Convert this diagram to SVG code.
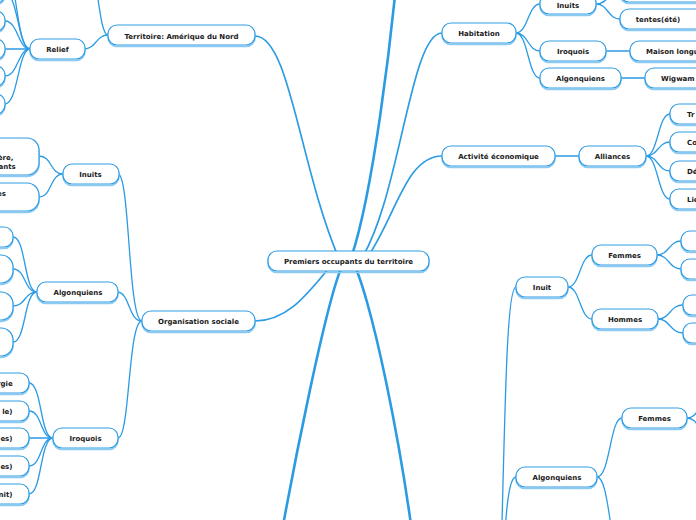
<svg xmlns="http://www.w3.org/2000/svg" width="696" height="520" viewBox="0 0 696 520">
<style>
.c{fill:none;stroke:#2b9be3;stroke-width:1.3;stroke-linecap:round}
.cm{fill:none;stroke:#2b9be3;stroke-width:1.7;stroke-linecap:round}
.ct{fill:none;stroke:#2b9be3;stroke-width:2.6;stroke-linecap:round}
.sh{fill:none;stroke:#8ccaf2;stroke-width:1.6}
.bx{fill:#fff;stroke:#2e9be3;stroke-width:1.2}
.t{font-family:"DejaVu Sans",Verdana,sans-serif;font-weight:bold;font-size:7px;fill:#1a1a1a;text-anchor:middle}
.te{font-family:"DejaVu Sans",Verdana,sans-serif;font-weight:bold;font-size:7px;fill:#1a1a1a;text-anchor:end}
.ts{font-family:"DejaVu Sans",Verdana,sans-serif;font-weight:bold;font-size:7px;fill:#1a1a1a;text-anchor:start}
</style>
<rect width="696" height="520" fill="#fff"/>
<g id="connectors">
<!-- root branches -->
<path class="cm" d="M255,36 C290,36 300,170 340,261"/>
<path class="cm" d="M255,321 C290,321 310,290 335,261"/>
<path class="ct" d="M350,261 C372,200 392,40 400,-60"/>
<path class="cm" d="M442,33 C410,33 400,200 360,261"/>
<path class="cm" d="M442,156 C405,156 395,220 365,261"/>
<path class="ct" d="M345,261 C330,280 290,480 270,600"/>
<path class="ct" d="M352,261 C368,285 405,450 420,600"/>
<!-- Territoire -->
<path class="c" d="M84,49 C96,49 96,35 108,35"/>
<path class="c" d="M108,35 C98,35 98,-40 86,-40"/>
<!-- Relief -->
<path class="c" d="M30,49 C16,49 16,-35 5,-35"/>
<path class="c" d="M30,49 C18,49 18,-7 5,-7"/>
<path class="c" d="M30,49 C18,49 18,21 5,21"/>
<path class="c" d="M30,49 L5,49"/>
<path class="c" d="M30,49 C18,49 18,76 5,76"/>
<path class="c" d="M30,49 C18,49 18,104 5,104"/>
<!-- Organisation sociale -->
<path class="c" d="M118,174 C130,174 128,321 142,321"/>
<path class="c" d="M117,292 C130,292 128,321 142,321"/>
<path class="c" d="M118,438 C130,438 128,321 142,321"/>
<!-- Inuits (org) -->
<path class="c" d="M39,156 C52,156 50,174 63,174"/>
<path class="c" d="M39,197 C52,197 50,174 63,174"/>
<!-- Algonquiens (org) -->
<path class="c" d="M13,237 C26,237 24,292 37,292"/>
<path class="c" d="M13,269 C26,269 24,292 37,292"/>
<path class="c" d="M13,306 C26,306 24,292 37,292"/>
<path class="c" d="M13,342 C26,342 24,292 37,292"/>
<!-- Iroquois (org) -->
<path class="c" d="M29,383 C42,383 40,438 53,438"/>
<path class="c" d="M29,411 C42,411 40,438 53,438"/>
<path class="c" d="M29,438 L53,438"/>
<path class="c" d="M29,466 C42,466 40,438 53,438"/>
<path class="c" d="M29,494 C42,494 40,438 53,438"/>
<!-- Habitation -->
<path class="c" d="M516,33 C528,33 528,4 540,4"/>
<path class="c" d="M516,33 C528,33 528,51 540,51"/>
<path class="c" d="M516,33 C528,33 528,78 540,78"/>
<path class="c" d="M596,4 C608,4 608,-8 620,-8"/>
<path class="c" d="M596,4 C608,4 608,19 620,19"/>
<path class="cm" d="M606,51 L630,51"/>
<path class="cm" d="M621,78 L645,78"/>
<!-- Activité -->
<path class="cm" d="M555,156 L579,156"/>
<path class="c" d="M646,156 C658,156 658,114 670,114"/>
<path class="c" d="M646,156 C658,156 658,142 670,142"/>
<path class="c" d="M646,156 C658,156 658,171 670,171"/>
<path class="c" d="M646,156 C658,156 658,199 670,199"/>
<!-- lower right -->
<path class="c" d="M516,287 C506,287 505,420 500,600"/>
<path class="c" d="M516,477 C506,477 505,540 500,600"/>
<path class="c" d="M568,287 C580,287 580,255 592,255"/>
<path class="c" d="M568,287 C580,287 580,319 592,319"/>
<path class="c" d="M657,255 C669,255 669,241 681,241"/>
<path class="c" d="M657,255 C669,255 669,269 681,269"/>
<path class="c" d="M658,319 C670,319 670,305 683,305"/>
<path class="c" d="M658,319 C670,319 670,333 683,333"/>
<path class="c" d="M597,477 C610,477 610,418 622,418"/>
<path class="c" d="M597,477 C610,477 610,560 622,560"/>
<path class="c" d="M687,418 C699,418 699,400 711,400"/>
<path class="c" d="M687,418 C699,418 699,436 711,436"/>
</g>

<g id="root"><rect class="sh" x="268" y="252.5" width="161" height="20" rx="9"/><rect class="bx" x="268" y="251" width="161" height="20" rx="9"/><text class="t" x="348.5" y="263.5">Premiers occupants du territoire</text></g>

<g id="territoire"><rect class="sh" x="108" y="26.5" width="147" height="20" rx="9"/><rect class="bx" x="108" y="25" width="147" height="20" rx="9"/><text class="t" x="181.5" y="38.5">Territoire: Amérique du Nord</text></g>
<g id="relief"><rect class="sh" x="30" y="40.5" width="55" height="20" rx="9"/><rect class="bx" x="30" y="39" width="55" height="20" rx="9"/><text class="t" x="57.5" y="51.5">Relief</text></g>
<g id="relief-c1"><rect class="sh" x="-80" y="-15.5" width="85" height="20" rx="9"/><rect class="bx" x="-80" y="-17" width="85" height="20" rx="9"/></g>
<g id="relief-c2"><rect class="sh" x="-80" y="12.5" width="85" height="20" rx="9"/><rect class="bx" x="-80" y="11" width="85" height="20" rx="9"/></g>
<g id="relief-c3"><rect class="sh" x="-80" y="40.5" width="85" height="20" rx="9"/><rect class="bx" x="-80" y="39" width="85" height="20" rx="9"/></g>
<g id="relief-c4"><rect class="sh" x="-80" y="67.5" width="85" height="20" rx="9"/><rect class="bx" x="-80" y="66" width="85" height="20" rx="9"/></g>
<g id="relief-c5"><rect class="sh" x="-80" y="95.5" width="85" height="20" rx="9"/><rect class="bx" x="-80" y="94" width="85" height="20" rx="9"/></g>

<g id="organisation"><rect class="sh" x="142" y="312.5" width="113" height="20" rx="9"/><rect class="bx" x="142" y="311" width="113" height="20" rx="9"/><text class="t" x="198.5" y="323.5">Organisation sociale</text></g>
<g id="org-inuits"><rect class="sh" x="63" y="165.5" width="56" height="20" rx="9"/><rect class="bx" x="63" y="164" width="56" height="20" rx="9"/><text class="t" x="90.5" y="176.5">Inuits</text></g>
<g id="org-inuits-c1"><rect class="sh" x="-80" y="139.5" width="119" height="37" rx="12"/><rect class="bx" x="-80" y="138" width="119" height="37" rx="12"/><text class="te" x="13.3" y="159.8">ère,</text><text class="te" x="15.7" y="168.6">ants</text></g>
<g id="org-inuits-c2"><rect class="sh" x="-80" y="184.5" width="119" height="28" rx="12"/><rect class="bx" x="-80" y="183" width="119" height="28" rx="12"/><text class="te" x="5.8" y="195.8">es</text></g>
<g id="org-algonquiens"><rect class="sh" x="37" y="283.5" width="81" height="20" rx="9"/><rect class="bx" x="37" y="282" width="81" height="20" rx="9"/><text class="t" x="78" y="294.5">Algonquiens</text></g>
<g id="org-alg-c1"><rect class="sh" x="-80" y="228.5" width="93" height="20" rx="9"/><rect class="bx" x="-80" y="227" width="93" height="20" rx="9"/></g>
<g id="org-alg-c2"><rect class="sh" x="-80" y="256.5" width="93" height="28" rx="12"/><rect class="bx" x="-80" y="255" width="93" height="28" rx="12"/></g>
<g id="org-alg-c3"><rect class="sh" x="-80" y="293.5" width="93" height="28" rx="12"/><rect class="bx" x="-80" y="292" width="93" height="28" rx="12"/></g>
<g id="org-alg-c4"><rect class="sh" x="-80" y="329.5" width="93" height="28" rx="12"/><rect class="bx" x="-80" y="328" width="93" height="28" rx="12"/></g>
<g id="org-iroquois"><rect class="sh" x="53" y="429.5" width="65" height="20" rx="9"/><rect class="bx" x="53" y="428" width="65" height="20" rx="9"/><text class="t" x="85.5" y="440.5">Iroquois</text></g>
<g id="org-iro-c1"><rect class="sh" x="-80" y="374.5" width="109" height="20" rx="9"/><rect class="bx" x="-80" y="373" width="109" height="20" rx="9"/><text class="te" x="12.7" y="385.5">rgie</text></g>
<g id="org-iro-c2"><rect class="sh" x="-80" y="402.5" width="109" height="20" rx="9"/><rect class="bx" x="-80" y="401" width="109" height="20" rx="9"/><text class="te" x="12.5" y="413.5">le)</text></g>
<g id="org-iro-c3"><rect class="sh" x="-80" y="429.5" width="109" height="20" rx="9"/><rect class="bx" x="-80" y="428" width="109" height="20" rx="9"/><text class="te" x="12.5" y="440.5">es)</text></g>
<g id="org-iro-c4"><rect class="sh" x="-80" y="457.5" width="109" height="20" rx="9"/><rect class="bx" x="-80" y="456" width="109" height="20" rx="9"/><text class="te" x="12.5" y="468.5">es)</text></g>
<g id="org-iro-c5"><rect class="sh" x="-80" y="485.5" width="109" height="20" rx="9"/><rect class="bx" x="-80" y="484" width="109" height="20" rx="9"/><text class="te" x="12.5" y="496.5">nit)</text></g>

<g id="habitation"><rect class="sh" x="442" y="24.5" width="74" height="20" rx="9"/><rect class="bx" x="442" y="23" width="74" height="20" rx="9"/><text class="t" x="479" y="35.5">Habitation</text></g>
<g id="hab-inuits"><rect class="sh" x="540" y="-4.5" width="56" height="20" rx="9"/><rect class="bx" x="540" y="-6" width="56" height="20" rx="9"/><text class="t" x="568" y="8">Inuits</text></g>
<g id="hab-inuits-c1"><rect class="sh" x="620" y="-16.5" width="90" height="20" rx="9"/><rect class="bx" x="620" y="-18" width="90" height="20" rx="9"/></g>
<g id="hab-tentes"><rect class="sh" x="620" y="10.5" width="90" height="20" rx="9"/><rect class="bx" x="620" y="9" width="90" height="20" rx="9"/><text class="t" x="658" y="21.5">tentes(été)</text></g>
<g id="hab-iroquois"><rect class="sh" x="540" y="42.5" width="66" height="20" rx="9"/><rect class="bx" x="540" y="41" width="66" height="20" rx="9"/><text class="t" x="573" y="53.5">Iroquois</text></g>
<g id="hab-maison"><rect class="sh" x="630" y="42.5" width="100" height="20" rx="9"/><rect class="bx" x="630" y="41" width="100" height="20" rx="9"/><text class="ts" x="646" y="53.5">Maison longu</text></g>
<g id="hab-algonquiens"><rect class="sh" x="540" y="69.5" width="81" height="20" rx="9"/><rect class="bx" x="540" y="68" width="81" height="20" rx="9"/><text class="t" x="580.5" y="80.5">Algonquiens</text></g>
<g id="hab-wigwam"><rect class="sh" x="645" y="69.5" width="90" height="20" rx="9"/><rect class="bx" x="645" y="68" width="90" height="20" rx="9"/><text class="ts" x="661" y="80.5">Wigwam</text></g>

<g id="activite"><rect class="sh" x="442" y="147.5" width="113" height="20" rx="9"/><rect class="bx" x="442" y="146" width="113" height="20" rx="9"/><text class="t" x="498.5" y="158.5">Activité économique</text></g>
<g id="alliances"><rect class="sh" x="579" y="147.5" width="67" height="20" rx="9"/><rect class="bx" x="579" y="146" width="67" height="20" rx="9"/><text class="t" x="612.5" y="158.5">Alliances</text></g>
<g id="all-c1"><rect class="sh" x="670" y="105.5" width="80" height="20" rx="9"/><rect class="bx" x="670" y="104" width="80" height="20" rx="9"/><text class="ts" x="687" y="116.5">Tr</text></g>
<g id="all-c2"><rect class="sh" x="670" y="133.5" width="80" height="20" rx="9"/><rect class="bx" x="670" y="132" width="80" height="20" rx="9"/><text class="ts" x="687" y="144.5">Co</text></g>
<g id="all-c3"><rect class="sh" x="670" y="162.5" width="80" height="20" rx="9"/><rect class="bx" x="670" y="161" width="80" height="20" rx="9"/><text class="ts" x="687" y="173.5">Dé</text></g>
<g id="all-c4"><rect class="sh" x="670" y="190.5" width="80" height="20" rx="9"/><rect class="bx" x="670" y="189" width="80" height="20" rx="9"/><text class="ts" x="687" y="201.5">Lie</text></g>

<g id="inuit"><rect class="sh" x="516" y="278.5" width="52" height="20" rx="9"/><rect class="bx" x="516" y="277" width="52" height="20" rx="9"/><text class="t" x="542" y="289.5">Inuit</text></g>
<g id="inuit-femmes"><rect class="sh" x="592" y="246.5" width="65" height="20" rx="9"/><rect class="bx" x="592" y="245" width="65" height="20" rx="9"/><text class="t" x="624.5" y="257.5">Femmes</text></g>
<g id="inuit-hommes"><rect class="sh" x="592" y="310.5" width="66" height="20" rx="9"/><rect class="bx" x="592" y="309" width="66" height="20" rx="9"/><text class="t" x="625" y="321.5">Hommes</text></g>
<g id="if-c1"><rect class="sh" x="681" y="232.5" width="60" height="20" rx="9"/><rect class="bx" x="681" y="231" width="60" height="20" rx="9"/></g>
<g id="if-c2"><rect class="sh" x="681" y="260.5" width="60" height="20" rx="9"/><rect class="bx" x="681" y="259" width="60" height="20" rx="9"/></g>
<g id="ih-c1"><rect class="sh" x="683" y="296.5" width="60" height="20" rx="9"/><rect class="bx" x="683" y="295" width="60" height="20" rx="9"/></g>
<g id="ih-c2"><rect class="sh" x="683" y="324.5" width="60" height="20" rx="9"/><rect class="bx" x="683" y="323" width="60" height="20" rx="9"/></g>

<g id="algonquiens"><rect class="sh" x="516" y="468.5" width="81" height="20" rx="9"/><rect class="bx" x="516" y="467" width="81" height="20" rx="9"/><text class="t" x="557" y="479.5">Algonquiens</text></g>
<g id="alg-femmes"><rect class="sh" x="622" y="409.5" width="65" height="20" rx="9"/><rect class="bx" x="622" y="408" width="65" height="20" rx="9"/><text class="t" x="654.5" y="420.5">Femmes</text></g>
</svg>
